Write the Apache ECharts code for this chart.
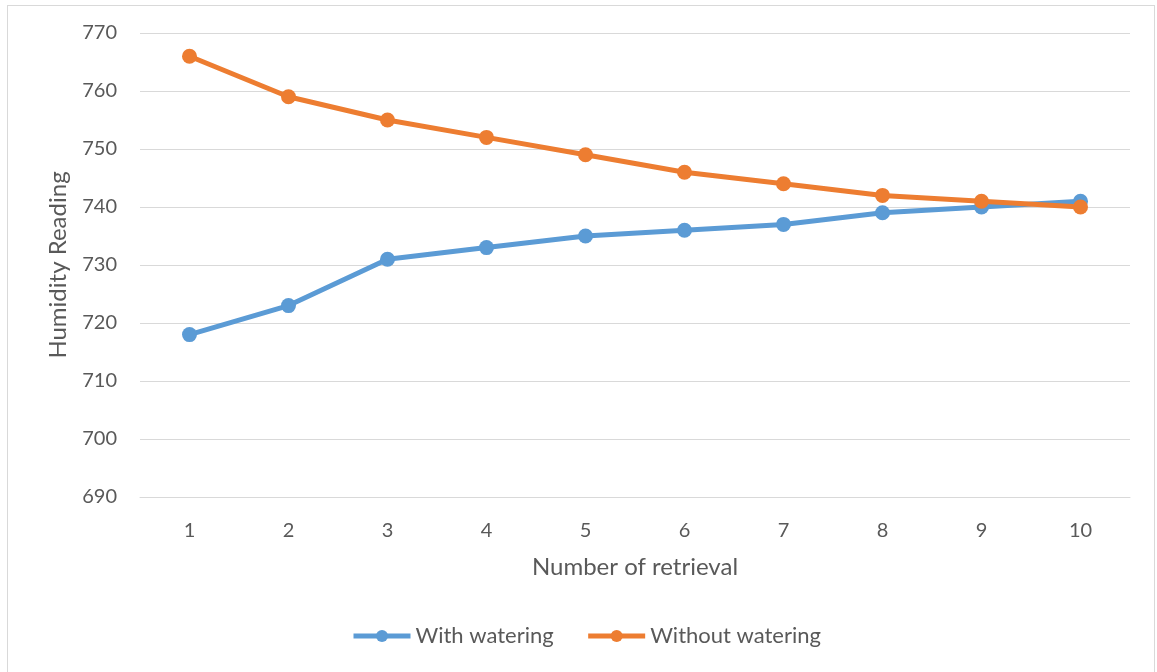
<!DOCTYPE html>
<html>
<head>
<meta charset="utf-8">
<script src="https://cdn.jsdelivr.net/npm/echarts@6/dist/echarts.min.js"></script>
<style>
html, body { margin: 0; padding: 0; background: #fff; }
#frame { position: absolute; left: 7px; top: 5px; width: 1148px; height: 680px; border: 1px solid #d9d9d9; box-sizing: border-box; }
#chart { position: absolute; left: 0; top: 0; width: 1157px; height: 672px; }
</style>
</head>
<body>
<div id="frame"></div>
<div id="chart"></div>
<script>
const retrievals = ['1', '2', '3', '4', '5', '6', '7', '8', '9', '10']
const withWatering = [718, 723, 731, 733, 735, 736, 737, 739, 740, 741]
const withoutWatering = [766, 759, 755, 752, 749, 746, 744, 742, 741, 740]

const font = 'Lato, "Open Sans", sans-serif'
const myChart = echarts.init(document.getElementById('chart'))

const option = {
  animation: false,
  textStyle: { fontFamily: font },
  grid: { left: 140, right: 27, top: 33, bottom: 175 },
  legend: {
    bottom: 20,
    left: 346,
    itemWidth: 57,
    itemHeight: 15,
    itemGap: 32,
    lineStyle: { width: 5 },
    textStyle: { fontSize: 22, color: '#595959', fontFamily: font },
    data: ['With watering', 'Without watering']
  },
  xAxis: {
    type: 'category',
    data: retrievals,
    boundaryGap: true,
    name: 'Number of retrieval',
    nameLocation: 'middle',
    nameGap: 58,
    nameTextStyle: { fontSize: 24, color: '#595959', fontFamily: font },
    axisLine: { lineStyle: { color: '#d9d9d9', width: 1 } },
    axisTick: { show: false },
    axisLabel: { fontSize: 20, color: '#595959', margin: 24 }
  },
  yAxis: {
    type: 'value',
    min: 690,
    max: 770,
    interval: 10,
    name: 'Humidity Reading',
    nameLocation: 'middle',
    nameGap: 70,
    nameTextStyle: { fontSize: 24, color: '#595959', fontFamily: font },
    axisLine: { show: false },
    axisTick: { show: false },
    axisLabel: { fontSize: 20, color: '#595959', margin: 23 },
    splitLine: { lineStyle: { color: '#d9d9d9', width: 1 } }
  },
  series: [
    {
      name: 'With watering',
      type: 'line',
      data: withWatering,
      symbol: 'circle',
      symbolSize: 15,
      lineStyle: { width: 5, color: '#5b9bd5' },
      itemStyle: { color: '#5b9bd5' }
    },
    {
      name: 'Without watering',
      type: 'line',
      data: withoutWatering,
      symbol: 'circle',
      symbolSize: 15,
      lineStyle: { width: 5, color: '#ed7d31' },
      itemStyle: { color: '#ed7d31' }
    }
  ]
}
myChart.setOption(option)
</script>
</body>
</html>
